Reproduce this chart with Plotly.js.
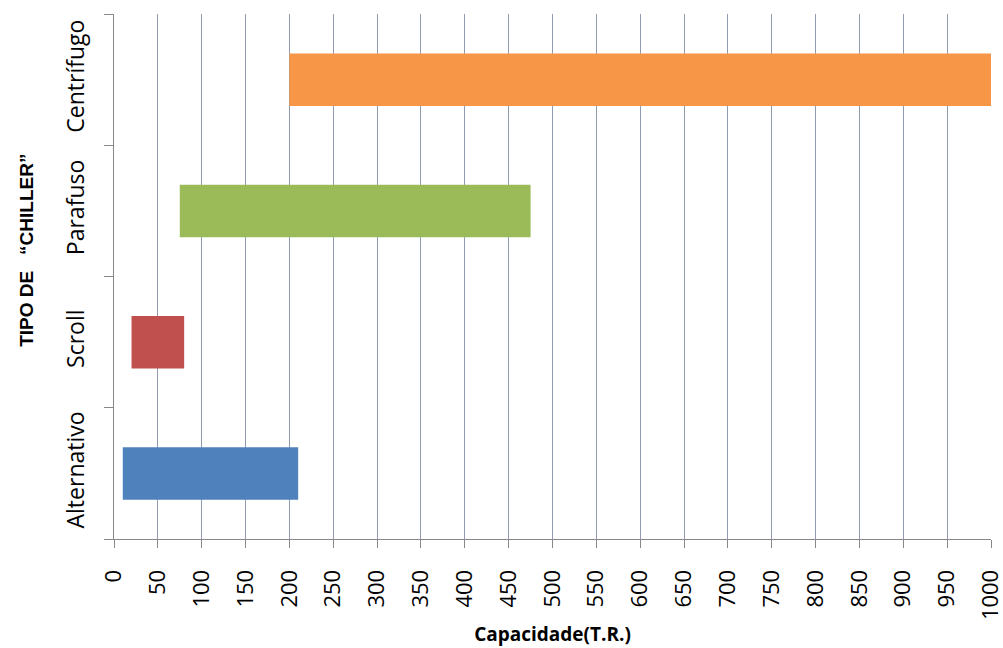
<!DOCTYPE html>
<html>
<head>
<meta charset="utf-8">
<script src="https://cdn.plot.ly/plotly-3.0.1.min.js"></script>
<style>html,body{margin:0;padding:0;background:#fff;}#chart{width:1003px;height:648px;}</style>
</head>
<body>
<div id="chart"></div>
<script>
const categories = ["Alternativo", "Scroll", "Parafuso", "Centrífugo"];
const startValues = [10, 20, 75, 200];
const endValues = [210, 80, 475, 1000];
const barColors = ["#4f81bd", "#c0504d", "#9bbb59", "#f79646"];
const xTickValues = [0,50,100,150,200,250,300,350,400,450,500,550,600,650,700,750,800,850,900,950,1000];
const xTitle = "Capacidade(T.R.)";
const yTitle = "TIPO DE   “CHILLER”";

const trace = {
  type: "bar",
  orientation: "h",
  y: categories,
  base: startValues,
  x: endValues.map((e, i) => e - startValues[i]),
  width: 0.4,
  marker: { color: barColors },
  hoverinfo: "skip"
};

const layout = {
  width: 1003, height: 648,
  margin: { l: 114, r: 12, t: 14, b: 109 },
  paper_bgcolor: "#fff", plot_bgcolor: "#fff",
  showlegend: false,
  font: { family: "Open Sans, sans-serif", color: "#000" },
  xaxis: {
    range: [0, 1000],
    tickvals: xTickValues,
    ticktext: xTickValues.map(String),
    tickangle: -90,
    tickfont: { size: 22, family: "Open Sans, sans-serif", color: "#000" },
    ticks: "outside", ticklen: 8, tickcolor: "#888",
    ticklabelstandoff: 13,
    ticklabeloverflow: "allow",
    showgrid: true, gridcolor: "#8e9bb0", gridwidth: 1,
    showline: true, linecolor: "#888", linewidth: 1,
    zeroline: false,
    title: { text: xTitle, font: { size: 19, family: "Open Sans, sans-serif", weight: "bold", color: "#000" }, standoff: 8 }
  },
  yaxis: {
    type: "category",
    categoryorder: "array", categoryarray: categories,
    tickangle: -90,
    tickfont: { size: 23, family: "Open Sans, sans-serif", color: "#000" },
    ticks: "outside", ticklen: 9, tickcolor: "#888",
    tickson: "boundaries",
    ticklabelstandoff: 20,
    showgrid: false,
    showline: true, linecolor: "#888", linewidth: 1,
    zeroline: false
  },
  annotations: [{
    text: yTitle,
    xref: "paper", yref: "paper",
    x: 0, y: 0.549, xshift: -87,
    xanchor: "center", yanchor: "middle",
    textangle: -90,
    showarrow: false,
    font: { size: 19, family: "Liberation Sans, Arial, sans-serif", weight: "bold", color: "#000" }
  }]
};

Plotly.newPlot("chart", [trace], layout, { displayModeBar: false, staticPlot: true });
</script>
</body>
</html>
